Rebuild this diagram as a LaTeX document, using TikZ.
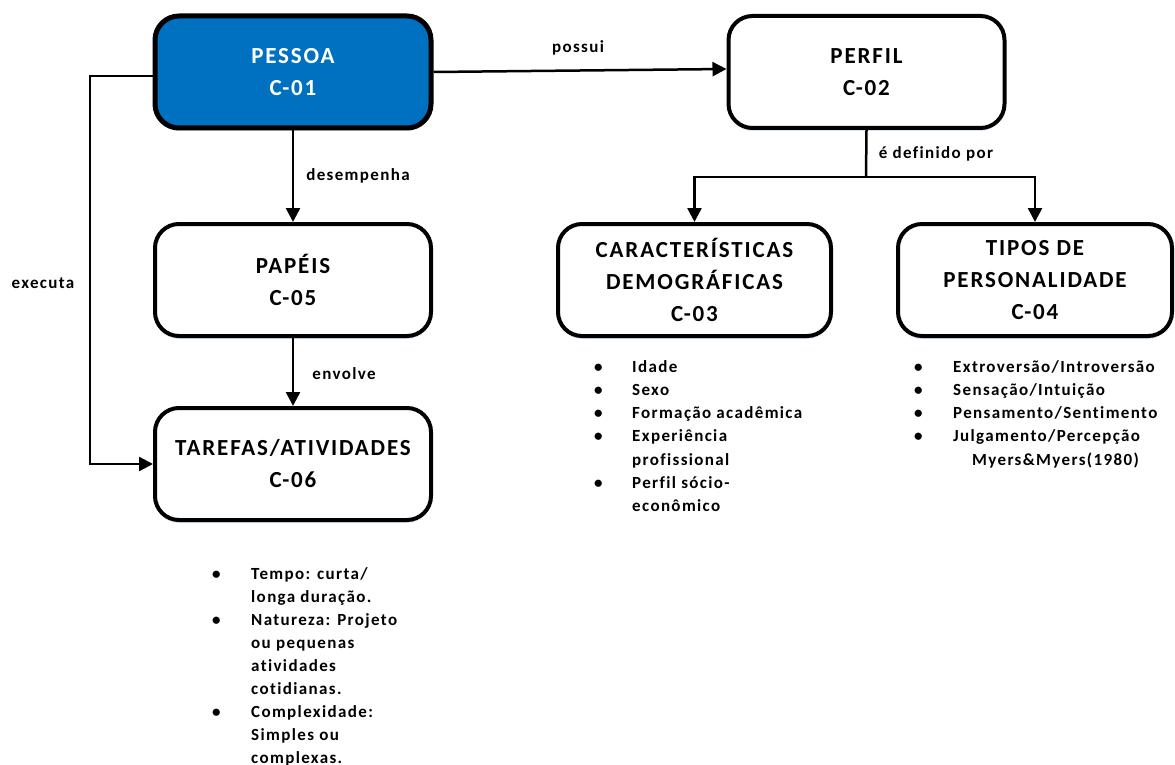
\documentclass[tikz,border=0pt]{standalone}
\usepackage{fontspec}
\setmainfont{Carlito}[LetterSpace=8,Ligatures={NoCommon}]
\usetikzlibrary{arrows.meta,calc,shadows}
\definecolor{officeblue}{RGB}{0,112,192}
\definecolor{haze}{RGB}{205,225,242}
\begin{document}
\begin{tikzpicture}[x=1pt,y=-1pt,
  concept/.style={draw=black,line width=4pt,rounded corners=24pt,fill=white,
    minimum width=276pt,minimum height=112pt,align=center,inner sep=0pt,
    drop shadow={shadow xshift=0pt,shadow yshift=-3pt,fill=haze,opacity=0.8},
    font=\fontsize{23}{32}\selectfont\bfseries},
  keyconcept/.style={concept,fill=officeblue,text=white,line width=5pt},
  link/.style={line width=2.5pt,-{Triangle[length=14pt,width=14pt]}},
  plain/.style={line width=2.5pt},
  rel/.style={font=\fontsize{17}{20}\selectfont\bfseries,inner sep=0pt},
  notes/.style={anchor=base west,inner sep=0pt,font=\fontsize{17}{23.3}\selectfont\bfseries}
]
\useasboundingbox (0,0) rectangle (1175,765);

% concepts
\node[keyconcept] (pessoa) at (293,72) {PESSOA\\C-01};
\node[concept] (perfil) at (866.5,72) {PERFIL\\C-02};
\node[concept] (papeis) at (293,280) {PAPÉIS\\C-05};
\node[concept] (tarefas) at (293,464) {TAREFAS/ATIVIDADES\\C-06};
\node[concept,minimum width=273pt] (demog) at (694.5,280) {CARACTERÍSTICAS\\DEMOGRÁFICAS\\C-03};
\node[concept,minimum width=274pt] (tipos) at (1035,280) {TIPOS DE\\PERSONALIDADE\\C-04};

% relations
\draw[link] (pessoa.east) -- ([yshift=3pt]perfil.west);
\node[rel] (possui) at (578,48) {possui};

\draw[link] (pessoa.south) -- (papeis.north);
\node[rel] (desempenha) at (358,176) {desempenha};

\draw[link] (papeis.south) -- (tarefas.north);
\node[rel] (envolve) at (344,374) {envolve};

\coordinate (exec) at (90,76);
\draw[link] ([yshift=-4pt]pessoa.west) -- (exec) |- (tarefas.west);
\node[rel] (executa) at (43,283) {executa};

\coordinate (split) at (866,177);
\draw[plain] (perfil.south) -- (split);
\draw[link] (split) -| (demog.north);
\draw[link] (split) -| (tipos.north);
\node[rel] (definido) at (936,154) {é definido por};

% descriptive lists
\newcommand\bul{\makebox[38pt][l]{\textbullet}}
\newcommand\ind{\hspace*{38pt}}
\node[notes] (listdemog) at (594,372) {\parbox[t]{260pt}{%
  \bul Idade\\
  \bul Sexo\\
  \bul Formação acadêmica\\
  \bul Experiência\\
  \ind profissional\\
  \bul Perfil sócio-\\
  \ind econômico}};
\node[notes] (listtipos) at (914,372) {\parbox[t]{280pt}{%
  \makebox[39pt][l]{\textbullet}Extroversão/Introversão\\
  \makebox[39pt][l]{\textbullet}Sensação/Intuição\\
  \makebox[39pt][l]{\textbullet}Pensamento/Sentimento\\
  \makebox[39pt][l]{\textbullet}Julgamento/Percepção\\
  \hspace*{58pt}Myers\&Myers(1980)}};
\node[notes,font=\fontsize{17}{23}\selectfont\bfseries] (listtarefas) at (212,579) {\parbox[t]{260pt}{%
  \makebox[39pt][l]{\textbullet}Tempo: curta/\\
  \hspace*{39pt}longa duração.\\
  \makebox[39pt][l]{\textbullet}Natureza: Projeto\\
  \hspace*{39pt}ou pequenas\\
  \hspace*{39pt}atividades\\
  \hspace*{39pt}cotidianas.\\
  \makebox[39pt][l]{\textbullet}Complexidade:\\
  \hspace*{39pt}Simples ou\\
  \hspace*{39pt}complexas.}};
\end{tikzpicture}
\end{document}
